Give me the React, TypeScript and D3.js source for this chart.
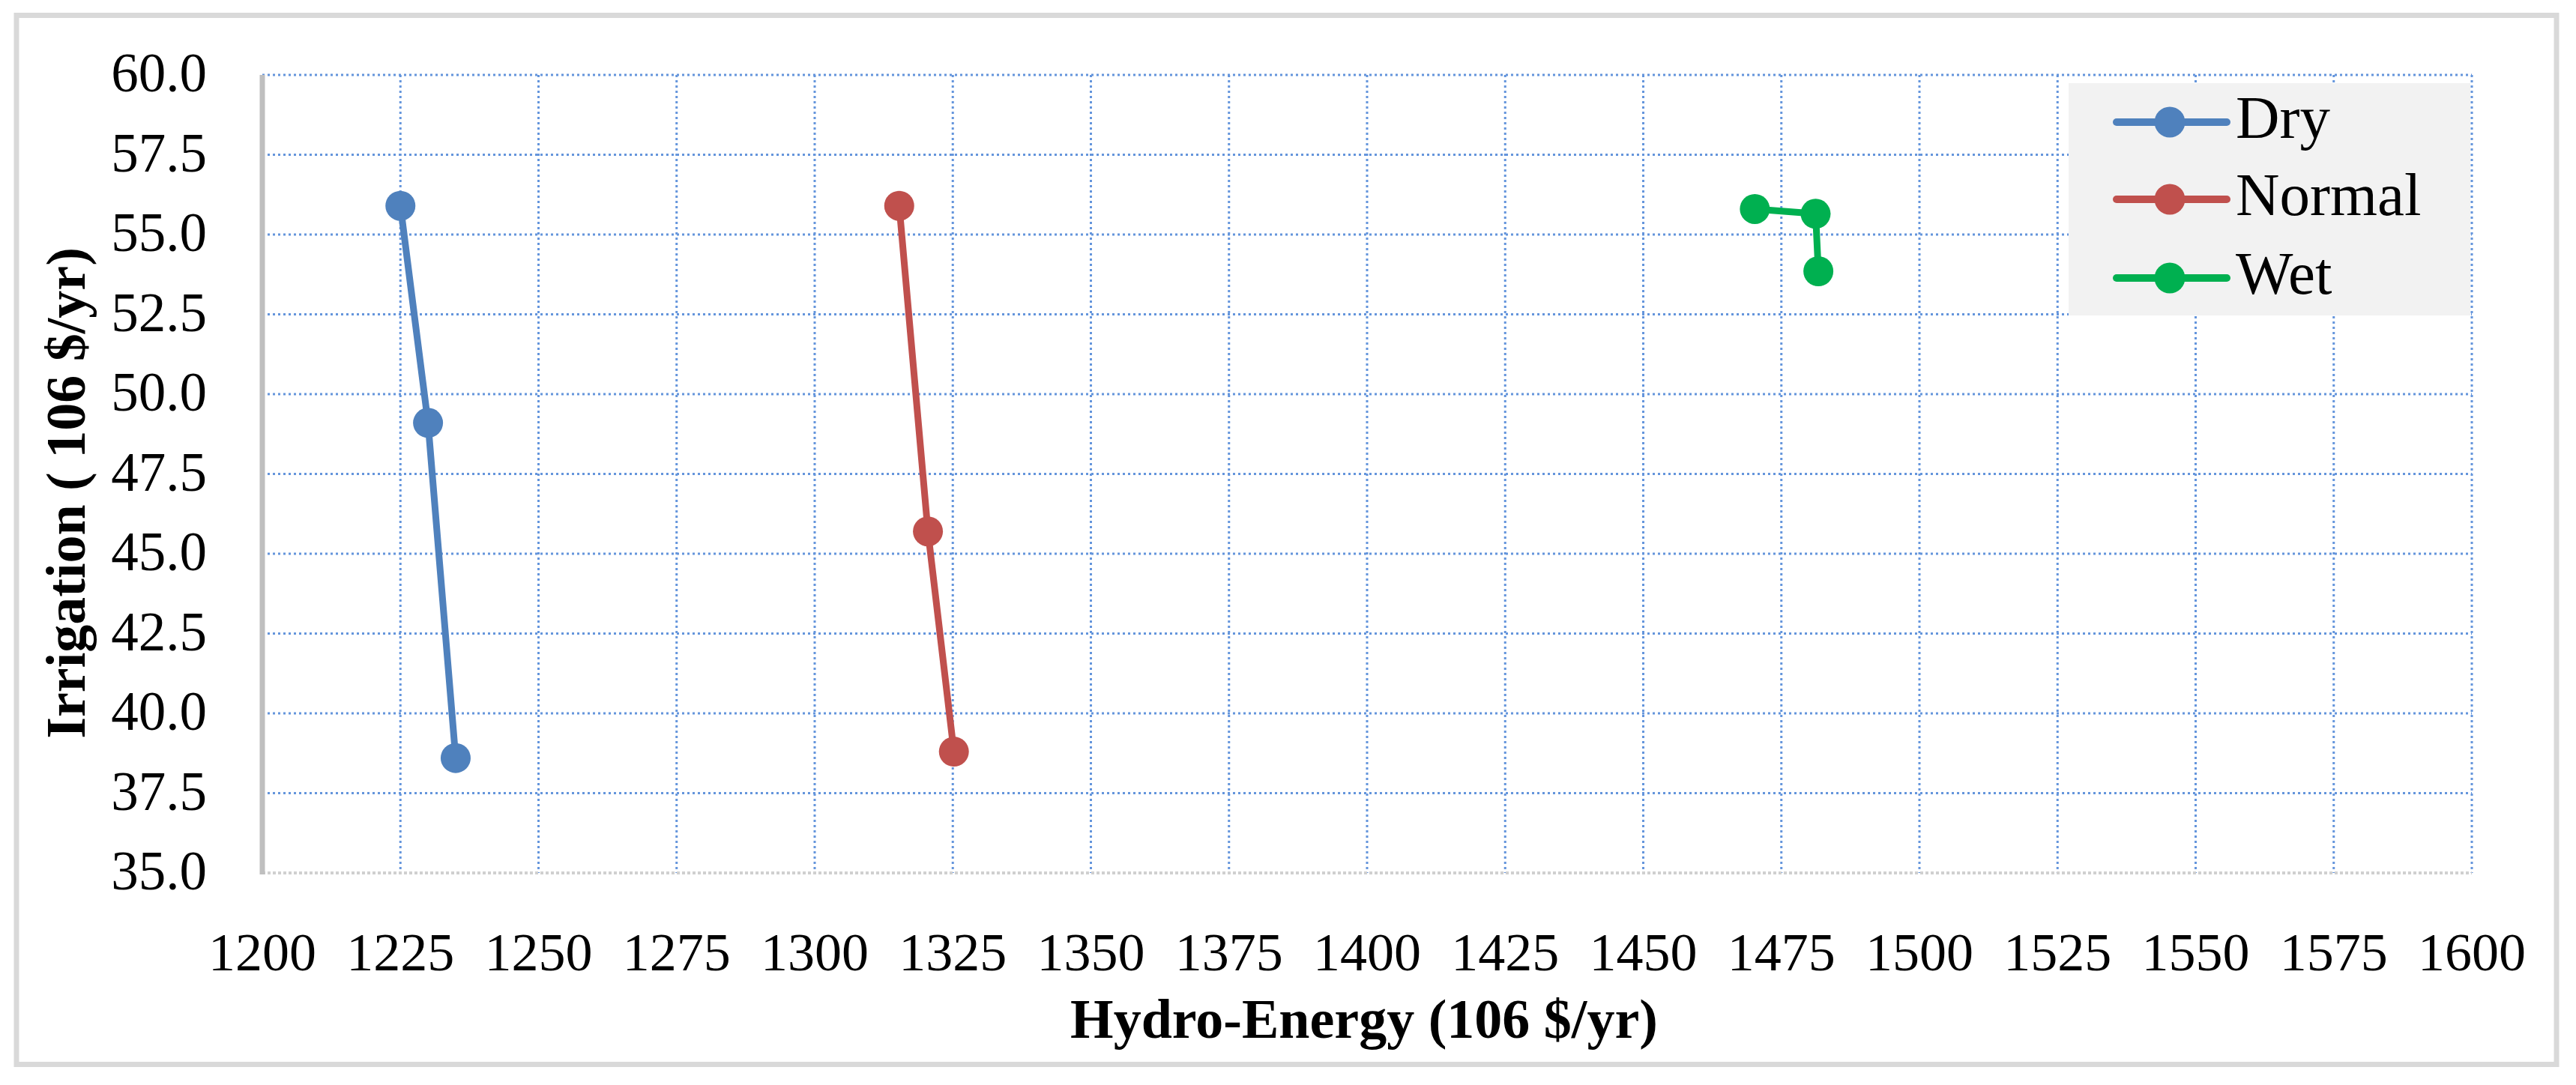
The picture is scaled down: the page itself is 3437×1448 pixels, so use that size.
import React from "react";
import * as d3 from "d3";

const seriesNames = ["Dry", "Normal", "Wet"];
const seriesColors = ["#4f81bd", "#c0504d", "#00b050"];
const dryX = [1225, 1230, 1235];
const dryY = [55.9, 49.1, 38.6];
const normalX = [1315.3, 1320.5, 1325.2];
const normalY = [55.9, 45.7, 38.8];
const wetX = [1470.2, 1481.2, 1481.7];
const wetY = [55.8, 55.65, 53.85];
const xTicks = [1200, 1225, 1250, 1275, 1300, 1325, 1350, 1375, 1400, 1425, 1450, 1475, 1500, 1525, 1550, 1575, 1600];
const yTicks = [35, 37.5, 40, 42.5, 45, 47.5, 50, 52.5, 55, 57.5, 60];
const xTitle = "Hydro-Energy (106 $/yr)";
const yTitle = "Irrigation ( 106 $/yr)";

const W = 3437;
const H = 1448;
const PL = 350, PR = 3298, PT = 100, PB = 1165;
const FONT = "'Liberation Serif', 'Times New Roman', serif";

export default function App() {
  const x = d3.scaleLinear().domain([1200, 1600]).range([PL, PR]);
  const y = d3.scaleLinear().domain([35, 60]).range([PB, PT]);
  const series = [
    { name: seriesNames[0], color: seriesColors[0], xs: dryX, ys: dryY },
    { name: seriesNames[1], color: seriesColors[1], xs: normalX, ys: normalY },
    { name: seriesNames[2], color: seriesColors[2], xs: wetX, ys: wetY },
  ];
  const line = d3
    .line<[number, number]>()
    .x((d) => x(d[0]))
    .y((d) => y(d[1]));

  const legendX = 2760, legendY = 111, legendW = 536, legendH = 310;
  const legendRows = [163, 266, 371];

  return (
    <svg
      width={W}
      height={H}
      viewBox={`0 0 ${W} ${H}`}
      style={{ position: "absolute", left: 0, top: 0, background: "#ffffff" }}
    >
      <rect x={0} y={0} width={W} height={H} fill="#ffffff" />
      <rect x={22} y={20.5} width={3389} height={1400} fill="#ffffff" stroke="#d9d9d9" strokeWidth={7} />

      {/* horizontal gridlines */}
      {yTicks.filter((t) => t !== 35).map((t) => (
        <line key={"hy" + t} x1={PL} x2={PR} y1={y(t)} y2={y(t)} stroke="#6495dc" strokeWidth={3} strokeDasharray="3,4" />
      ))}
      {/* vertical gridlines */}
      {xTicks.filter((t) => t !== 1200).map((t) => (
        <line key={"vx" + t} x1={x(t)} x2={x(t)} y1={PT} y2={PB} stroke="#6495dc" strokeWidth={3} strokeDasharray="3,4" />
      ))}
      {/* bottom axis */}
      <line x1={PL} x2={PR} y1={y(35)} y2={y(35)} stroke="#d0d0d0" strokeWidth={4} strokeDasharray="4,3" />
      {/* left axis */}
      <line x1={x(1200)} x2={x(1200)} y1={PT} y2={PB + 2} stroke="#bfbfbf" strokeWidth={7} />

      {/* y tick labels */}
      {yTicks.map((t) => (
        <text key={"yl" + t} x={276} y={y(t) + 22} textAnchor="end" fontFamily={FONT} fontSize={73} fill="#000">
          {t.toFixed(1)}
        </text>
      ))}
      {/* x tick labels */}
      {xTicks.map((t) => (
        <text key={"xl" + t} x={x(t)} y={1295} textAnchor="middle" fontFamily={FONT} fontSize={72} fill="#000">
          {t}
        </text>
      ))}

      {/* axis titles */}
      <text x={1820} y={1385} textAnchor="middle" fontFamily={FONT} fontSize={74} fontWeight="bold" fill="#000">
        {xTitle}
      </text>
      <text
        transform={`translate(113, 658) rotate(-90)`}
        textAnchor="middle"
        fontFamily={FONT}
        fontSize={74}
        fontWeight="bold"
        fill="#000"
      >
        {yTitle}
      </text>

      {/* series */}
      {series.map((s) => {
        const pts: [number, number][] = s.xs.map((v, i) => [v, s.ys[i]]);
        return (
          <g key={s.name}>
            <path d={line(pts) || ""} fill="none" stroke={s.color} strokeWidth={9} strokeLinejoin="round" />
            {pts.map((p, i) => (
              <circle key={i} cx={x(p[0])} cy={y(p[1])} r={20} fill={s.color} />
            ))}
          </g>
        );
      })}

      {/* legend */}
      <rect x={legendX} y={legendY} width={legendW} height={legendH} fill="#f2f2f2" />
      {series.map((s, i) => (
        <g key={"lg" + s.name}>
          <line x1={2824} x2={2971} y1={legendRows[i]} y2={legendRows[i]} stroke={s.color} strokeWidth={10} strokeLinecap="round" />
          <circle cx={2895} cy={legendRows[i]} r={20.5} fill={s.color} />
          <text x={2983} y={legendRows[i] + 21} fontFamily={FONT} fontSize={81} fill="#000">
            {s.name}
          </text>
        </g>
      ))}
    </svg>
  );
}
